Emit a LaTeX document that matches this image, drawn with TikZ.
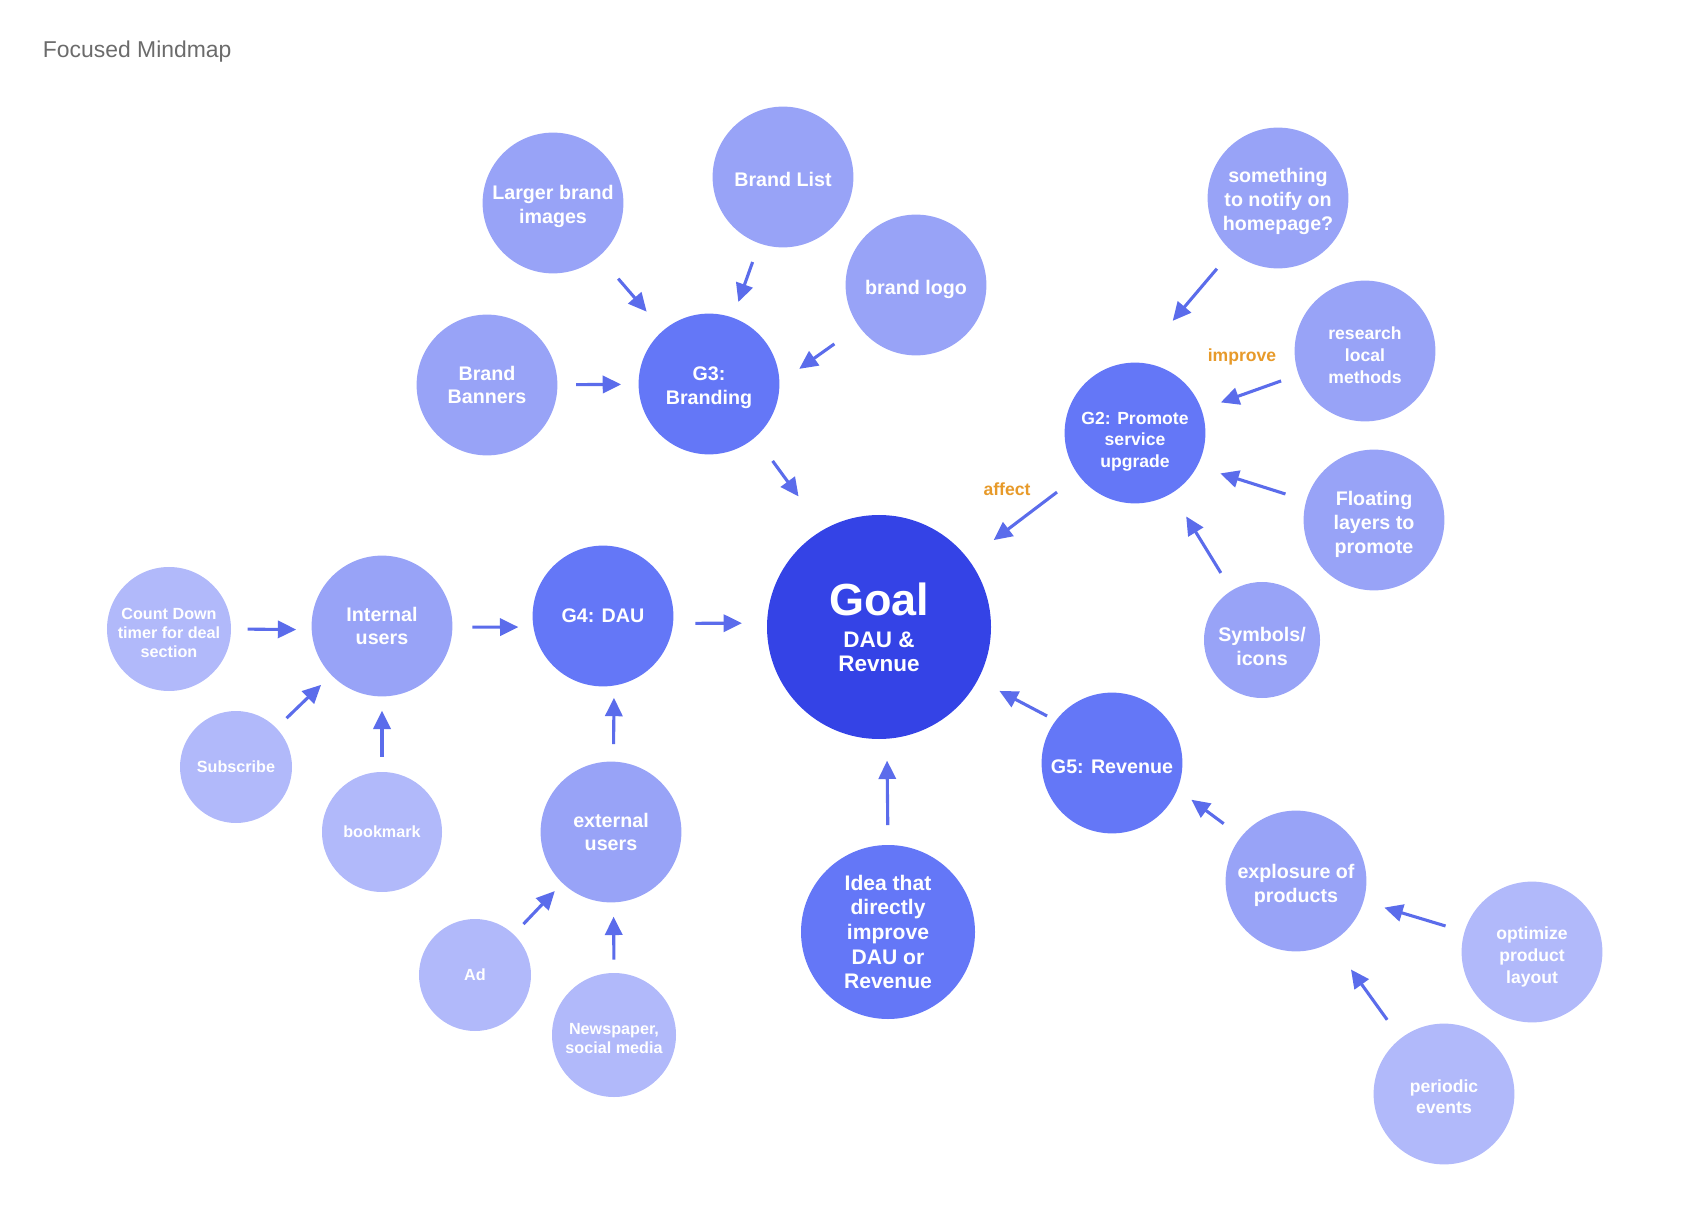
\documentclass[tikz,border=0pt]{standalone}
\usepackage{fontspec}
\setmainfont{Liberation Sans}
\usepackage{xcolor}
\usepackage{tikz}
\usetikzlibrary{arrows.meta}
\definecolor{goalblue}{HTML}{3443E6}
\definecolor{subblue}{HTML}{6477F7}
\definecolor{midblue}{HTML}{98A3F7}
\definecolor{paleblue}{HTML}{B1B9FA}
\definecolor{arrowblue}{HTML}{5B6CEB}
\definecolor{tagorange}{HTML}{E79A2A}
\definecolor{titlegray}{HTML}{6B6B6B}
\newcommand{\mmbody}{\bfseries\fontsize{14}{17}\selectfont}
\newcommand{\mmsmall}{\bfseries\fontsize{12.5}{15.5}\selectfont}
\newcommand{\mmtiny}{\bfseries\fontsize{11.5}{13.5}\selectfont}
% strut on the first line, nudges the text a little lower in its bubble
\newcommand{\lift}[1][15.3pt]{\rule{0pt}{#1}}
\tikzset{
  bub/.style={circle, draw=none, text=white, align=center, inner sep=0pt,
              minimum size=#1, font=\mmbody},
  bub/.default=35.2mm,
  ideabub/.style={bub=#1, fill=midblue},
  ideabub/.default=35.2mm,
  paleidea/.style={bub=#1, fill=paleblue, font=\mmtiny},
  paleidea/.default=35.2mm,
  subgoal/.style={bub=#1, fill=subblue},
  subgoal/.default=35.2mm,
  goalbub/.style={bub=56mm, fill=goalblue, font=\bfseries\fontsize{16}{17}\selectfont},
  feed/.style 2 args={draw=arrowblue, line width=2.2pt,
              -{Triangle[length=4.6mm,width=4.3mm]}, shorten <=#1, shorten >=#2},
  tag/.style={text=tagorange, font=\bfseries\fontsize{12.5}{15}\selectfont},
}

\begin{document}
\begin{tikzpicture}[x=0.25mm, y=-0.25mm]
  \useasboundingbox (0,0) rectangle (1700,1231);
  \node[anchor=west, text=titlegray, font=\fontsize{16.3}{19}\selectfont] (title) at (38,52) {Focused Mindmap};

  % centre
  \node[goalbub] (goal) at (879,627) {{\fontsize{32}{36}\selectfont Goal}\\[6pt]DAU \&\\Revnue};
  \node[subgoal=43.5mm, font=\bfseries\fontsize{15}{17.5}\selectfont] (direct) at (888,932)
    {Idea that\\directly\\improve\\DAU or\\Revenue};

  % G3 branding
  \node[subgoal] (g3) at (709,384) {\lift G3:\\Branding};
  \node[ideabub] (lbi) at (553,203) {\lift Larger brand\\images};
  \node[ideabub] (blist) at (783,177) {\lift[14pt]Brand List};
  \node[ideabub] (logo) at (916,285) {\lift[16pt]brand logo};
  \node[ideabub] (banners) at (487,385) {Brand\\Banners};

  % G2 service upgrade
  \node[subgoal, font=\mmsmall] (g2) at (1135,433) {\lift[21pt]G2: Promote\\service\\upgrade};
  \node[ideabub] (notify) at (1278,198) {\lift something\\to notify on\\homepage?};
  \node[ideabub, font=\mmsmall] (research) at (1365,351) {\lift research\\local\\methods};
  \node[ideabub] (floating) at (1374,520) {\lift[16.5pt]Floating\\layers to\\promote};
  \node[ideabub=29mm] (symbols) at (1262,640) {\lift[19.5pt]Symbols/\\icons};
  \node[tag] (improve) at (1242,357) {improve};
  \node[tag] (affect) at (1007,489) {affect};

  % G5 revenue
  \node[subgoal] (g5) at (1112,763) {\lift[15pt]G5: Revenue};
  \node[ideabub] (exposure) at (1296,881) {\lift[16pt]explosure of\\products};
  \node[paleidea, font=\mmsmall] (layout) at (1532,952) {\lift[16.5pt]optimize\\product\\layout};
  \node[paleidea, font=\mmsmall] (periodic) at (1444,1094) {\lift[13pt]periodic\\events};

  % G4 DAU
  \node[subgoal] (g4) at (603,616) {G4: DAU};
  \node[ideabub] (internal) at (382,626) {Internal\\users};
  \node[paleidea=31mm] (countdown) at (169,629) {\lift[13pt]Count Down\\timer for deal\\section};
  \node[paleidea=28mm] (subscribe) at (236,767) {Subscribe};
  \node[paleidea=30mm] (bookmark) at (382,832) {bookmark};
  \node[ideabub] (external) at (611,832) {external\\users};
  \node[paleidea=28mm] (ad) at (475,975) {Ad};
  \node[paleidea=31mm] (news) at (614,1035) {\lift[13pt]Newspaper,\\social media};

  % arrows
  \foreach \from/\to/\s/\e in {lbi/g3/7.3/6.2, blist/g3/4.9/4.1, logo.216/g3.1/7.5/6.0,
      banners/g3/4.6/4.3, g3.-49/goal.120/7.3/10.3, notify.229/g2.88/5.7/13.6,
      research/g2/4.6/5.1, floating.164/g2.-28/5.4/6.0, symbols/g2/5.1/6.8,
      g2/goal/6.8/7.9, g5.143/goal.-28/2.4/6.0, exposure.141/g5.-22/5.4/4.3,
      layout/exposure/4.9/5.4, periodic.128/exposure.-60/5.7/8.4,
      direct.north/goal.-86/4.9/5.4, g4.-6/goal.178/5.5/6.2,
      internal.-1/g4.189/4.9/3.7, countdown.east/internal.183/4.1/3.8,
      subscribe/internal/3.5/3.5, bookmark/internal/3.8/3.5,
      external.88/g4.-81/4.3/3.0, ad/external/3.5/2.7, news.north/external.-88/3.3/3.5}
    \draw[feed={\s mm}{\e mm}] (\from) -- (\to);
\end{tikzpicture}
\end{document}
